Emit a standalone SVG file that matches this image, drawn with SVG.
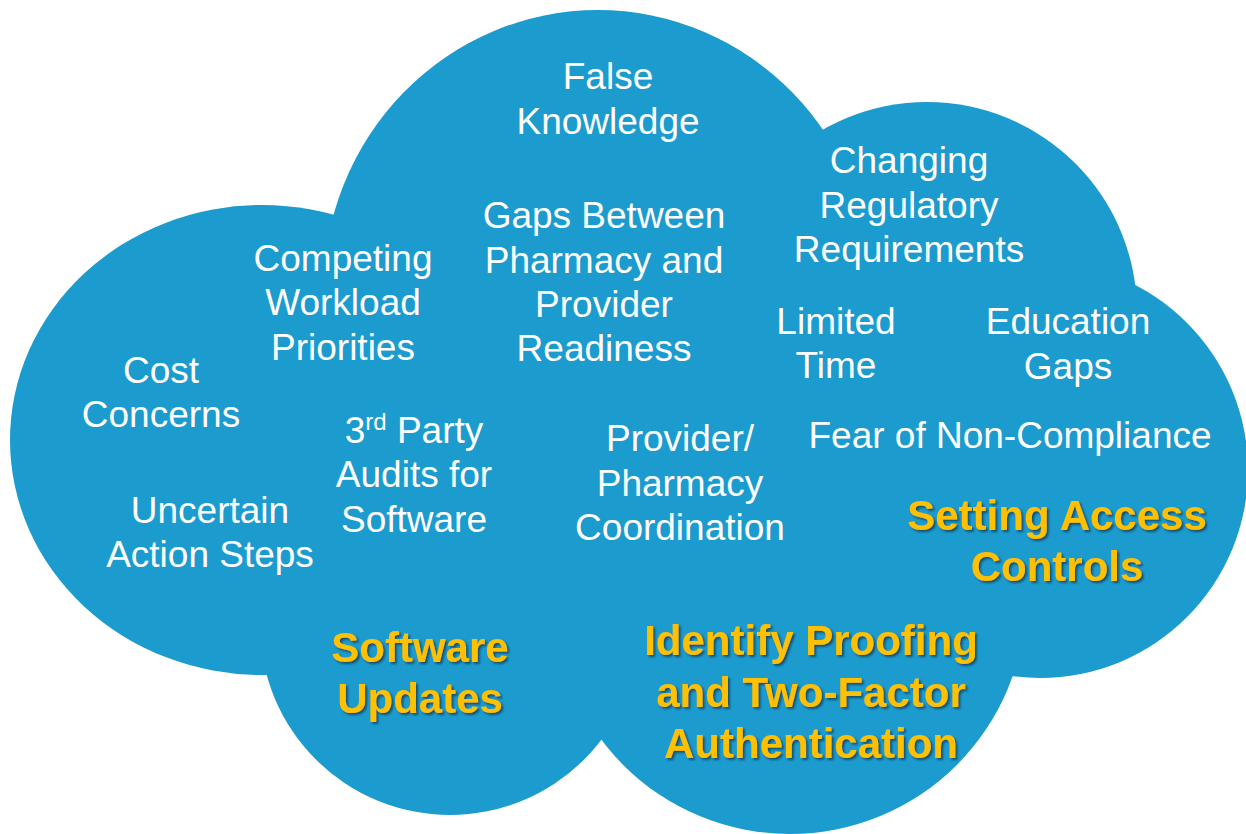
<svg xmlns="http://www.w3.org/2000/svg" width="1246" height="834" viewBox="0 0 1246 834">
<style>
.lobe{fill:#1c9bce}
.t{font-family:"Liberation Sans",Arial,sans-serif;font-size:37px;fill:#ffffff;text-anchor:middle}
.h{font-family:"Liberation Sans",Arial,sans-serif;font-size:42px;font-weight:bold;fill:#ffc000;text-anchor:middle;filter:url(#sh)}
</style>
<defs>
<filter id="sh" x="-10%" y="-20%" width="120%" height="150%">
<feDropShadow dx="2" dy="2" stdDeviation="1" flood-color="#0a3550" flood-opacity="0.75"/>
</filter>
</defs>
<rect width="1246" height="834" fill="#ffffff"/>
<g id="cloud">
<ellipse class="lobe" cx="598" cy="292" rx="275" ry="282"/>
<circle class="lobe" cx="927" cy="312" r="210"/>
<circle class="lobe" cx="1040" cy="470" r="208"/>
<circle class="lobe" cx="790" cy="598" r="236"/>
<circle class="lobe" cx="450" cy="625" r="190"/>
<ellipse class="lobe" cx="262" cy="440" rx="252" ry="235"/>
<circle class="lobe" cx="620" cy="470" r="250"/>
</g>
<g id="false-knowledge"><text class="t" x="608" y="89">False</text><text class="t" x="608" y="134">Knowledge</text></g>
<g id="changing-regulatory"><text class="t" x="909" y="173">Changing</text><text class="t" x="909" y="218">Regulatory</text><text class="t" x="909" y="262">Requirements</text></g>
<g id="gaps-between"><text class="t" x="604" y="228">Gaps Between</text><text class="t" x="604" y="273">Pharmacy and</text><text class="t" x="604" y="317">Provider</text><text class="t" x="604" y="361">Readiness</text></g>
<g id="competing-workload"><text class="t" x="343" y="271">Competing</text><text class="t" x="343" y="315">Workload</text><text class="t" x="343" y="360">Priorities</text></g>
<g id="limited-time"><text class="t" x="836" y="334">Limited</text><text class="t" x="836" y="378">Time</text></g>
<g id="education-gaps"><text class="t" x="1068" y="334">Education</text><text class="t" x="1068" y="379">Gaps</text></g>
<g id="cost-concerns"><text class="t" x="161" y="383">Cost</text><text class="t" x="161" y="427">Concerns</text></g>
<g id="third-party"><text class="t" x="414" y="443">3<tspan font-size="24" dy="-13">rd</tspan><tspan dy="13"> Party</tspan></text><text class="t" x="414" y="487">Audits for</text><text class="t" x="414" y="532">Software</text></g>
<g id="coordination"><text class="t" x="680" y="451">Provider/</text><text class="t" x="680" y="496">Pharmacy</text><text class="t" x="680" y="540">Coordination</text></g>
<g id="fear"><text class="t" x="1010" y="448">Fear of Non-Compliance</text></g>
<g id="uncertain"><text class="t" x="210" y="523">Uncertain</text><text class="t" x="210" y="567">Action Steps</text></g>
<g id="setting-access"><text class="h" x="1057" y="530">Setting Access</text><text class="h" x="1057" y="581">Controls</text></g>
<g id="software-updates"><text class="h" x="420" y="662">Software</text><text class="h" x="420" y="713">Updates</text></g>
<g id="identify-proofing"><text class="h" x="811" y="655">Identify Proofing</text><text class="h" x="811" y="707">and Two-Factor</text><text class="h" x="811" y="758">Authentication</text></g>
<g id="connectors"></g>
</svg>
